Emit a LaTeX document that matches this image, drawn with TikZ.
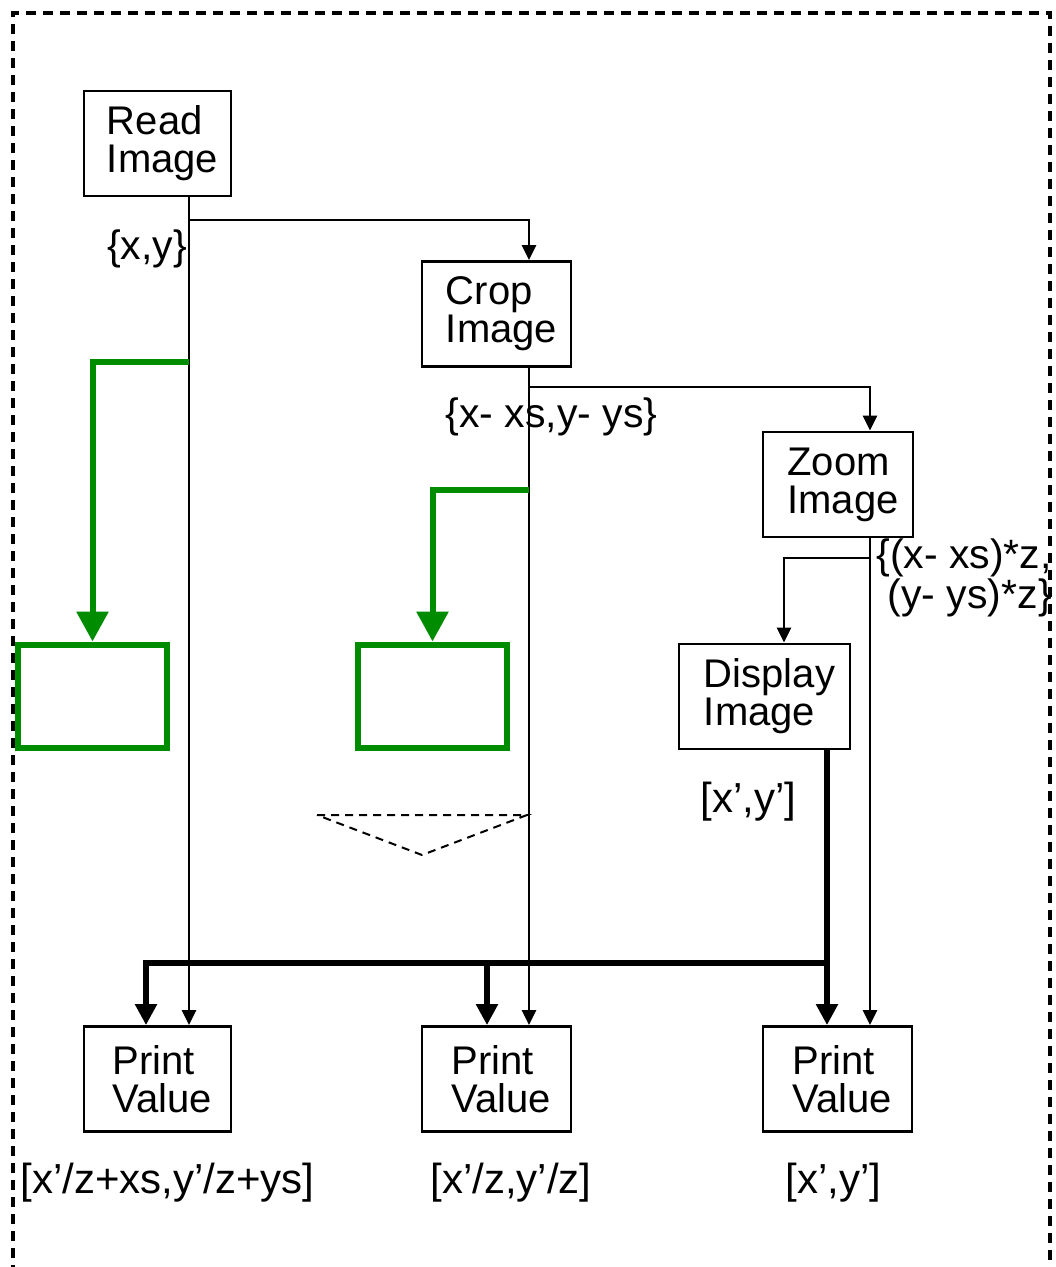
\documentclass[tikz,border=0pt]{standalone}
\usepackage{fontspec}
\setmainfont{Liberation Sans}
\usetikzlibrary{arrows.meta}
\definecolor{grn}{RGB}{0,140,0}
\newcommand{\ind}{\hspace*{10pt}}
\begin{document}
\begin{tikzpicture}[x=1pt,y=-1pt,
  box/.style={draw, line width=2.8pt, minimum height=105pt, inner sep=0pt, align=left,
    font=\fontsize{40}{38}\selectfont},
  gbox/.style={draw=grn, line width=6pt, minimum width=149pt, minimum height=103pt, inner sep=0pt},
  ln/.style={line width=2.6pt, -{Triangle[width=14pt,length=15pt]}},
  tln/.style={line width=6pt, -{Triangle[width=21pt,length=21pt]}},
  gln/.style={draw=grn, line width=6pt, -{Triangle[width=31pt,length=30pt]}, color=grn},
  lbl/.style={inner sep=0pt, font=\fontsize{41}{38}\selectfont},
  blbl/.style={inner sep=0pt, font=\fontsize{42}{38}\selectfont}]
\useasboundingbox (0,0) rectangle (1056,1267);
% outer dashed frame
\draw[line width=3.5pt, dash pattern=on 10pt off 7pt] (13,1275) -- (13,13) -- (1050,13) -- (1050,1275);

% boxes
\node[box, minimum width=147pt] (read) at (157.5,143.5) {\ind Read\\\ind Image};
\node[box, minimum width=149pt] (crop) at (496.5,314) {\ind Crop\\\ind Image};
\node[box, minimum width=150pt] (zoom) at (838,484.5) {\ind Zoom\\\ind Image};
\node[box, minimum width=171pt] (disp) at (764.5,696.5) {\ind Display\\\ind Image};
\node[box, minimum width=147pt] (pv1) at (157.5,1079) {\ind Print\\\ind Value};
\node[box, minimum width=149pt] (pv2) at (496.5,1079) {\ind Print\\\ind Value};
\node[box, minimum width=149pt] (pv3) at (837.5,1079) {\ind Print\\\ind Value};
\node[gbox] (g1) at (92.5,696) {};
\node[gbox] (g2) at (432.5,696) {};

% junction coordinates
\coordinate (b1) at (189,220);
\coordinate (b2) at (529,387);
\coordinate (b3) at (870,558);
\coordinate (t1) at (827,963);
\coordinate (t2) at (487,963);
\coordinate (gs1) at (189,362);
\coordinate (gs2) at (529,490);

% thin connectors
\draw[ln] ([xshift=31.5pt]read.south) -- ([xshift=31.5pt]pv1.north);
\draw[ln] (b1) -| ([xshift=32.5pt]crop.north);
\draw[ln] ([xshift=32.5pt]crop.south) -- ([xshift=32.5pt]pv2.north);
\draw[ln] (b2) -| ([xshift=32pt]zoom.north);
\draw[ln] ([xshift=32pt]zoom.south) -- ([xshift=32.5pt]pv3.north);
\draw[ln] (b3) -| ([xshift=19.5pt]disp.north);

% thick connectors
\draw[tln] ([xshift=62.5pt]disp.south) -- ([xshift=-10.5pt]pv3.north);
\draw[tln] (t1) -| ([xshift=-11.5pt]pv1.north);
\draw[tln] (t2) -- ([xshift=-9.5pt]pv2.north);

% green connectors
\draw[gln] (gs1) -| (g1.north);
\draw[gln] (gs2) -| (g2.north);

% dashed triangle
\draw[line width=2pt, dash pattern=on 8pt off 6pt] (317,815) -- (527,815) -- (422,855) -- cycle;

% labels
\node[lbl, anchor=east] (l1) at (187,249) {\{x,y\}};
\node[lbl] (l2) at (551.5,417) {\{x- xs,y- ys\}};
\node[lbl, anchor=north east, align=right] (l3) at (1052,539) {\{(x- xs)*z,\\(y- ys)*z\}};
\node[blbl] (l4) at (748.5,802) {[x',y']};
\node[blbl] (l5) at (167.5,1183) {[x'/z+xs,y'/z+ys]};
\node[blbl] (l6) at (511,1183) {[x'/z,y'/z]};
\node[blbl] (l7) at (833.5,1183) {[x',y']};
\end{tikzpicture}
\end{document}
